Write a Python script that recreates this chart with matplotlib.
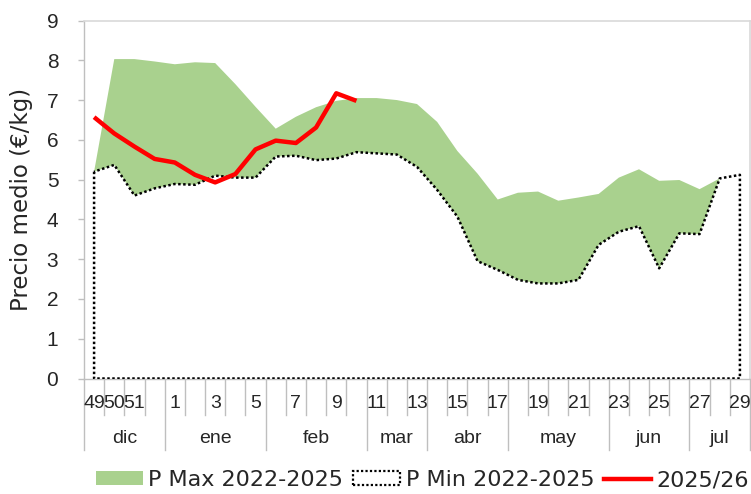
import numpy as np
import matplotlib
matplotlib.use("Agg")
import matplotlib.pyplot as plt
from matplotlib.patches import Patch
from matplotlib.lines import Line2D
import matplotlib.transforms as mtransforms

# ---------------- data ----------------
weeks = [49, 50, 51, 52] + list(range(1, 30))
shown_weeks = [49, 50, 51] + list(range(1, 30, 2))
months = ["dic", "ene", "feb", "mar", "abr", "may", "jun", "jul"]
weeks_per_month = [4, 5, 5, 3, 4, 5, 4, 3]

p_max = [5.20, 8.03, 8.03, 7.97, 7.90, 7.95, 7.93, 7.40, 6.83, 6.28,
         6.58, 6.82, 6.98, 7.05, 7.05, 7.00, 6.90, 6.45, 5.72, 5.15,
         4.50, 4.67, 4.70, 4.47, 4.55, 4.64, 5.05, 5.26, 4.97, 4.99,
         4.76, 5.03, 5.12]
p_min = [5.20, 5.37, 4.60, 4.78, 4.89, 4.87, 5.10, 5.05, 5.05, 5.58,
         5.60, 5.49, 5.53, 5.69, 5.66, 5.63, 5.32, 4.74, 4.07, 2.95,
         2.73, 2.48, 2.39, 2.39, 2.48, 3.36, 3.69, 3.83, 2.77, 3.65,
         3.63, 5.03, 5.12]
current = [6.57, 6.16, 5.83, 5.52, 5.43, 5.12, 4.93, 5.14, 5.76, 5.98,
           5.92, 6.31, 7.17, 6.98]

y_ticks = list(range(0, 10))

# ---------------- style ----------------
GREEN = "#A9D18E"
GRAY = "#BFBFBF"
TXT = "#262626"
FONT_NUM = "Liberation Sans"
FONT_TXT = "DejaVu Sans"

W, H = 751, 494
fig = plt.figure(figsize=(W / 100, H / 100), dpi=100)
left_px, right_px, top_px, bottom_px = 84, 750, 20.5, 378.5
ax = fig.add_axes([left_px / W, 1 - bottom_px / H,
                   (right_px - left_px) / W, (bottom_px - top_px) / H])
ax_h_px = bottom_px - top_px
ax_w_px = right_px - left_px

x = np.arange(len(weeks))
ax.set_xlim(-0.5, len(weeks) - 0.5)
ax.set_ylim(0, 9)

# green band between min and max
ax.fill_between(x, p_min, p_max, facecolor=GREEN, edgecolor="none",
                linewidth=0, zorder=2)
# min area (transparent fill, dotted border)
ax.fill_between(x, 0, p_min, facecolor="none", edgecolor="black",
                linewidth=1.8, linestyle=(0, (1, 1)), zorder=3)
# current season
xc = np.arange(len(current))
ax.plot(xc, current, color="#FF0000", linewidth=3.2,
        solid_capstyle="butt", solid_joinstyle="round", zorder=4)

# ---------------- axes styling ----------------
for s in ["top", "right"]:
    ax.spines[s].set_color("#D9D9D9")
    ax.spines[s].set_linewidth(1.2)
ax.spines["left"].set_color(GRAY)
ax.spines["bottom"].set_color(GRAY)
ax.spines["left"].set_linewidth(1.0)
ax.spines["bottom"].set_linewidth(1.0)

ax.set_yticks(y_ticks)
ax.set_yticklabels([str(v) for v in y_ticks], fontsize=15,
                   fontfamily=FONT_NUM, color=TXT)
ax.tick_params(axis="y", direction="out", length=4.5, width=1.0,
               color=GRAY, pad=14)

ax.set_ylabel("Precio medio (€/kg)", fontsize=16.5, fontfamily=FONT_TXT,
              color=TXT)
ax.yaxis.set_label_coords(-(left_px - 33) / ax_w_px, 0.5)

# category axis drawn as multi-level
ax.set_xticks([])
trans = mtransforms.blended_transform_factory(ax.transData, ax.transAxes)
short_len = 36 / ax_h_px
tall_len = 71 / ax_h_px
month_bounds = np.concatenate([[0], np.cumsum(weeks_per_month)])
for b in range(len(weeks) + 1):
    xb = b - 0.5
    L = tall_len if b in month_bounds else short_len
    ax.plot([xb, xb], [0, -L], transform=trans, color=GRAY, lw=1.0,
            clip_on=False, zorder=1)

label_y = -24.5 / ax_h_px
for i, wk in enumerate(weeks):
    if wk in shown_weeks:
        ax.text(i, label_y, str(wk), transform=trans, ha="center",
                va="center", fontsize=14, fontfamily=FONT_NUM, color=TXT)

month_y = -59.5 / ax_h_px
for m, a, b in zip(months, month_bounds[:-1], month_bounds[1:]):
    ax.text((a + b - 1) / 2, month_y, m, transform=trans, ha="center",
            va="center", fontsize=14, fontfamily=FONT_NUM, color=TXT)

# ---------------- legend ----------------
handles = [
    Patch(facecolor=GREEN, edgecolor="none", label="P Max 2022-2025"),
    Patch(facecolor="white", edgecolor="black", linestyle=(0, (1, 1)),
          linewidth=1.6, label="P Min 2022-2025"),
    Line2D([0], [0], color="#FF0000", lw=3.2, label="2025/26"),
]
fig.legend(handles=handles, loc="center", ncol=3, frameon=False,
           bbox_to_anchor=(422.5 / W, 1 - 480 / H),
           prop={"family": FONT_TXT, "size": 16},
           handlelength=2.1, handleheight=0.6, handletextpad=0.25,
           columnspacing=0.45, labelcolor=TXT, borderaxespad=0,
           borderpad=0)

fig.savefig("out.png", dpi=100)
